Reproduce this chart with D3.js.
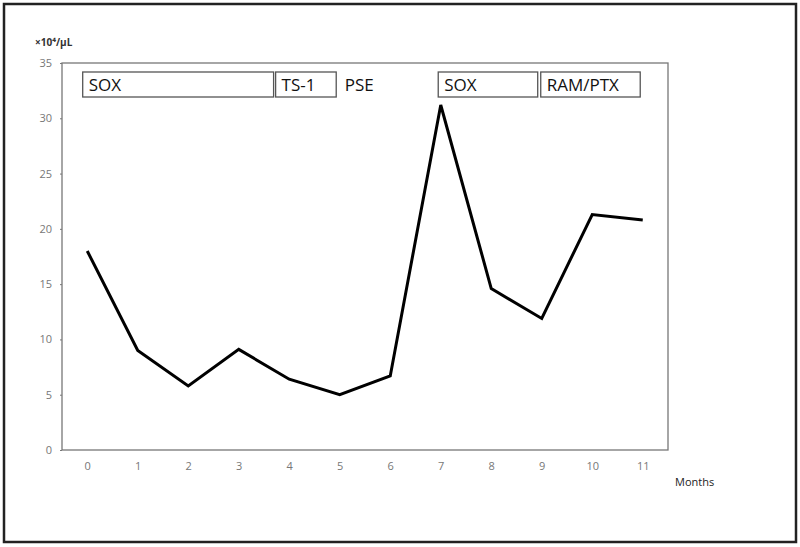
<!DOCTYPE html>
<html>
<head>
<meta charset="utf-8">
<script src="https://cdn.jsdelivr.net/npm/d3@7"></script>
<style>
  body { margin: 0; background: #fff; }
  text { font-family: "Open Sans", "Liberation Sans", sans-serif; }
</style>
</head>
<body>
<svg id="chart" width="800" height="547"></svg>
<script>
const months = [0, 1, 2, 3, 4, 5, 6, 7, 8, 9, 10, 11]
const plateletCount = [18.0, 9.0, 5.8, 9.1, 6.4, 5.0, 6.7, 31.2, 14.6, 11.9, 21.3, 20.8]
const yTicks = [0, 5, 10, 15, 20, 25, 30, 35]

// treatment periods, in months along the x axis
const regimenNames = ["SOX", "TS-1", "SOX", "RAM/PTX"]
const regimenStart = [-0.09, 3.73, 6.95, 8.98]
const regimenEnd = [3.69, 4.93, 8.92, 10.95]
const eventNames = ["PSE"]
const eventAt = [5.1]

const svg = d3.select('#chart')
const margin = { top: 63, right: 132, bottom: 97, left: 62 }
const width = +svg.attr("width") - margin.left - margin.right
const height = +svg.attr("height") - margin.top - margin.bottom

// outer frame
svg.append("rect")
    .attr("x", 4).attr("y", 4)
    .attr("width", 792).attr("height", 538)
    .attr("fill", "none")
    .attr("stroke", "#222")
    .attr("stroke-width", 2.5)

const x = d3.scalePoint()
    .domain(months)
    .range([0, width])
    .padding(0.5)

// linear version of the x scale for the regimen boxes
const step = x.step()
const xm = d3.scaleLinear()
    .domain([0, 1])
    .range([x(0), x(0) + step])

const y = d3.scaleLinear()
    .domain([0, 35])
    .range([height, 0])

const g = svg.append("g")
    .attr("transform", "translate(" + margin.left + "," + margin.top + ")")

// plot border
g.append("rect")
    .attr("width", width).attr("height", height)
    .attr("fill", "none")
    .attr("stroke", "#777")
    .attr("stroke-width", 1.3)

const yAxis = g.append("g")
    .call(d3.axisLeft(y).tickValues(yTicks).tickSize(2).tickPadding(8))
yAxis.select(".domain").remove()
yAxis.selectAll("line").attr("stroke", "#777")
yAxis.selectAll("text")
    .attr("fill", "#777")
    .style("font-size", "11px")

const xAxis = g.append("g")
    .attr("transform", "translate(0," + height + ")")
    .call(d3.axisBottom(x).tickSize(0).tickPadding(12))
xAxis.select(".domain").remove()
xAxis.selectAll("text")
    .attr("fill", "#777")
    .style("font-size", "11px")

g.append("text")
    .attr("x", width + 7)
    .attr("y", height + 36)
    .style("font-size", "11px")
    .attr("fill", "#222")
    .text("Months")

svg.append("text")
    .attr("x", 35)
    .attr("y", 46)
    .style("font-size", "10px")
    .style("font-weight", "bold")
    .attr("fill", "#333")
    .text("×10⁴/μL")

// regimen boxes
const boxes = g.selectAll(".regimen")
    .data(regimenNames.map((d, i) => ({ name: d, start: regimenStart[i], end: regimenEnd[i] })))
    .enter().append("g")
    .attr("class", "regimen")

boxes.append("rect")
    .attr("x", d => xm(d.start))
    .attr("y", 9)
    .attr("width", d => xm(d.end) - xm(d.start))
    .attr("height", 25)
    .attr("fill", "#fff")
    .attr("stroke", "#555")
    .attr("stroke-width", 1.3)

boxes.append("text")
    .attr("x", d => xm(d.start) + 6)
    .attr("y", 28)
    .style("font-size", "17px")
    .attr("fill", "#111")
    .text(d => d.name)

g.selectAll(".event")
    .data(eventNames)
    .enter().append("text")
    .attr("class", "event")
    .attr("x", (d, i) => xm(eventAt[i]))
    .attr("y", 28)
    .style("font-size", "17px")
    .attr("fill", "#111")
    .text(d => d)

const line = d3.line()
    .x((d, i) => x(months[i]))
    .y(d => y(d))

g.append("path")
    .datum(plateletCount)
    .attr("d", line)
    .attr("fill", "none")
    .attr("stroke", "#000")
    .attr("stroke-width", 3)
    .attr("stroke-linejoin", "miter")
</script>
</body>
</html>
